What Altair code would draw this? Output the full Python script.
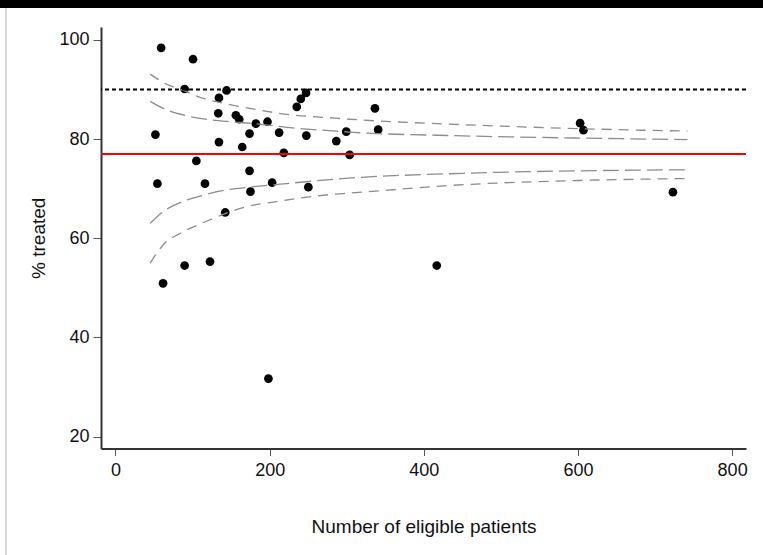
import altair as alt
import pandas as pd

# ---- data ----
n_patients = [59.2, 100.6, 89.7, 144.1, 134.2, 247.2, 240.4, 235.2, 133.3, 156.2,
              160.5, 182.1, 197.2, 51.8, 173.9, 212.3, 247.6, 299.4, 134.2, 164.4,
              286.5, 218.4, 303.8, 104.9, 173.9, 54.4, 116.1, 203.2, 175.1, 250.2,
              142.4, 89.7, 61.7, 122.6, 198.4, 416.8, 336.6, 340.8, 602.8, 607.1,
              723.2]
pct_treated = [98.4, 96.1, 90.1, 89.8, 88.3, 89.3, 88.1, 86.5, 85.2, 84.8,
               84.0, 83.1, 83.5, 80.9, 81.1, 81.3, 80.7, 81.5, 79.4, 78.4,
               79.6, 77.2, 76.8, 75.6, 73.6, 71.0, 71.0, 71.2, 69.4, 70.3,
               65.2, 54.5, 50.9, 55.3, 31.7, 54.5, 86.2, 81.9, 83.2, 81.8,
               69.3]

target_pct = [90]
mean_pct = [77.0]

# funnel limits
upper_outer_n = [45, 62, 88, 114, 144, 174, 227, 278, 304, 451, 602, 742]
upper_outer_v = [93.1, 91.4, 89.8, 88.2, 87.1, 86.2, 84.9, 84.3, 84.0, 82.9, 82.1, 81.6]
upper_inner_n = [45, 66, 92, 122, 148, 174, 248, 278, 304, 451, 602, 742]
upper_inner_v = [87.6, 85.9, 84.7, 83.9, 83.5, 83.2, 82.0, 81.7, 81.4, 80.65, 80.2, 79.9]
lower_inner_n = [45, 62, 84, 114, 144, 174, 227, 283, 451, 602, 742]
lower_inner_v = [63.0, 65.4, 67.2, 68.7, 69.75, 70.3, 71.1, 71.9, 73.1, 73.6, 73.8]
lower_outer_n = [45, 62, 84, 110, 144, 174, 205, 278, 304, 451, 602, 742]
lower_outer_v = [55.0, 58.7, 61.0, 62.9, 65.05, 66.5, 67.3, 68.8, 69.1, 70.8, 71.65, 72.05]

x_ticks = [0, 200, 400, 600, 800]
y_ticks = [20, 40, 60, 80, 100]

FONT = "Liberation Sans"
W, H = 645, 421.5
PAD = {"left": 101, "top": 27, "right": 17, "bottom": 106.5}

x_scale = alt.Scale(domain=[-18.8, 818], nice=False, zero=False)
y_scale = alt.Scale(domain=[17.6, 102.6], nice=False, zero=False)

x_axis = alt.Axis(values=x_ticks, title="Number of eligible patients",
                  titleFont=FONT, titleFontSize=19, titleFontWeight="normal",
                  titleColor="#111", titlePadding=38,
                  labelFont=FONT, labelFontSize=18, labelColor="#111",
                  labelPadding=6, labelFlush=False, tickSize=7,
                  tickColor="#555", tickWidth=1, domainColor="#333",
                  domainWidth=2, grid=False)
y_axis = alt.Axis(values=y_ticks, title="% treated",
                  titleFont=FONT, titleFontSize=19, titleFontWeight="normal",
                  titleColor="#111", titlePadding=10,
                  labelFont=FONT, labelFontSize=18, labelColor="#111",
                  labelPadding=4, labelFlush=False, tickSize=8,
                  tickColor="#555", tickWidth=1, domainColor="#333",
                  domainWidth=2, grid=False)

pts = pd.DataFrame({"n": n_patients, "pct": pct_treated})

points = alt.Chart(pts).mark_circle(size=76, color="black", opacity=1).encode(
    x=alt.X("n:Q", scale=x_scale, axis=x_axis),
    y=alt.Y("pct:Q", scale=y_scale, axis=y_axis),
)


def curve(ns, vs, dash):
    df = pd.DataFrame({"n": ns, "pct": vs})
    return alt.Chart(df).mark_line(color="#8c8c8c", strokeWidth=1.3,
                                   strokeDash=dash, interpolate="monotone").encode(
        x=alt.X("n:Q", scale=x_scale, axis=x_axis),
        y=alt.Y("pct:Q", scale=y_scale, axis=y_axis),
    )


uo = curve(upper_outer_n, upper_outer_v, [10, 7])
ui = curve(upper_inner_n, upper_inner_v, [16, 6])
li = curve(lower_inner_n, lower_inner_v, [16, 6])
lo = curve(lower_outer_n, lower_outer_v, [10, 7])

target = alt.Chart(pd.DataFrame({"pct": target_pct})).mark_rule(
    color="black", strokeWidth=2, strokeDash=[4, 3]).encode(
    y=alt.Y("pct:Q", scale=y_scale, axis=y_axis))

mean = alt.Chart(pd.DataFrame({"pct": mean_pct})).mark_rule(
    color="#ff0000", strokeWidth=2).encode(
    y=alt.Y("pct:Q", scale=y_scale, axis=y_axis))

# page decorations seen in the reference (black strip on top, grey frame edge)
deco_df = pd.DataFrame({"a": [0]})
top_bar = alt.Chart(deco_df).mark_rect(color="black").encode(
    x=alt.value(-PAD["left"]), x2=alt.value(W + PAD["right"]),
    y=alt.value(-PAD["top"]), y2=alt.value(-PAD["top"] + 8))
left_edge = alt.Chart(deco_df).mark_rule(color="#dadada", strokeWidth=2).encode(
    x=alt.value(-PAD["left"] + 6), y=alt.value(-PAD["top"] + 8),
    y2=alt.value(H + PAD["bottom"]))

chart = alt.layer(points, uo, ui, li, lo, target, mean, top_bar, left_edge).properties(
    width=W, height=H,
    autosize=alt.AutoSizeParams(type="none"),
    padding=PAD,
    background="white",
).configure_view(stroke=None)

chart.save("out.html", embed_options={"renderer": "svg", "actions": False})
